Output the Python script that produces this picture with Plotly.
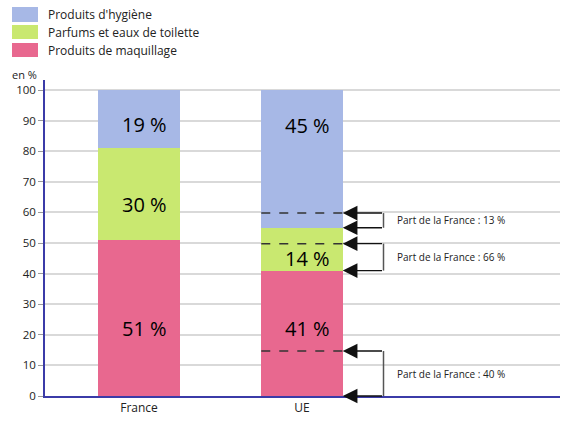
import plotly.graph_objects as go

# data
categories = ['France', 'UE']
cat_pos = [0, 1]
maquillage = [51, 41]
parfums = [30, 14]
hygiene = [19, 45]
series_names = ["Produits d'hygiène", 'Parfums et eaux de toilette', 'Produits de maquillage']
series_colors = ['#a7b8e6', '#c9e870', '#e8688f']

# France's share of each UE segment, and the dashed marker level drawn in the UE bar
france_share = [13, 66, 40]          # hygiene, parfums, maquillage
share_marks = [59.8, 49.8, 14.7]
y_ticks = list(range(0, 101, 10))

# where the value labels sit (y level, per bar: maquillage, parfums, hygiene)
label_levels = [[22.2, 62.7, 88.6], [22.2, 45.1, 88.3]]

fig = go.Figure()

for vals, name, color in [(maquillage, series_names[2], series_colors[2]),
                          (parfums, series_names[1], series_colors[1]),
                          (hygiene, series_names[0], series_colors[0])]:
    fig.add_trace(go.Bar(
        x=cat_pos, y=vals, name=name, width=0.5,
        marker=dict(color=color, line=dict(width=0)),
        showlegend=False, hoverinfo='name+y',
    ))

# value labels
for i, pos in enumerate(cat_pos):
    for vals, ly in zip([maquillage, parfums, hygiene], label_levels[i]):
        fig.add_annotation(x=pos, y=ly, xref='x', yref='y', xshift=5,
                           text=f'{vals[i]} %', showarrow=False,
                           font=dict(size=20, color='black', family='Open Sans'))

# segment bottoms in the UE bar
ue_bottoms = [maquillage[1] + parfums[1], maquillage[1], 0]
ue_right = cat_pos[1] + 0.25
ue_left = cat_pos[1] - 0.25
bracket_x = cat_pos[1] + 0.5

for share, mark, bottom in zip(france_share, share_marks, ue_bottoms):
    # dashed line inside the bar
    fig.add_shape(type='line', x0=ue_left, x1=ue_right, y0=mark, y1=mark,
                  xref='x', yref='y', line=dict(color='#333333', width=1.5, dash='dash'))
    # bracket vertical
    fig.add_shape(type='line', x0=bracket_x, x1=bracket_x, y0=bottom, y1=mark,
                  xref='x', yref='y', line=dict(color='#555555', width=1.5))
    for yy in (mark, bottom):
        fig.add_annotation(x=ue_right, y=yy, ax=bracket_x, ay=yy,
                           xref='x', yref='y', axref='x', ayref='y',
                           text='', showarrow=True, arrowhead=2, arrowsize=2.1,
                           arrowwidth=1.4, arrowcolor='#111111')
    fig.add_annotation(x=bracket_x + 0.07, y=(mark + bottom) / 2, xref='x', yref='y',
                       text=f'Part de la France : {share} %', showarrow=False,
                       xanchor='left', yanchor='middle',
                       font=dict(size=10, color='#222222', family='Open Sans'))

# custom legend (big swatches, top left)
legend_rows = [(73, 58), (55, 41), (37, 23)]
for (top, bot), name, color in zip(legend_rows, series_names, series_colors):
    fig.add_shape(type='rect', xref='paper', yref='paper',
                  xsizemode='pixel', ysizemode='pixel', xanchor=0, yanchor=1,
                  x0=-33, x1=-7, y0=bot, y1=top,
                  fillcolor=color, line=dict(width=0))
    fig.add_annotation(x=0, y=1, xref='paper', yref='paper', xshift=1,
                       yshift=(top + bot) / 2, text=name, showarrow=False,
                       xanchor='left', yanchor='middle',
                       font=dict(size=12, color='#222222', family='Open Sans'))

fig.add_annotation(x=0, y=1, xref='paper', yref='paper', xshift=-35, yshift=6,
                   text='en %', showarrow=False, xanchor='left', yanchor='middle',
                   font=dict(size=11, color='#222222', family='Open Sans'))

fig.update_layout(
    barmode='stack',
    width=578, height=421,
    margin=dict(l=45, r=18, t=80, b=25),
    plot_bgcolor='white',
    paper_bgcolor='white',
    font=dict(family='Open Sans', size=11, color='#222222'),
    xaxis=dict(range=[-0.577, 2.583], tickvals=cat_pos, ticktext=categories,
               tickfont=dict(size=12),
               showgrid=False, zeroline=False, showline=True, automargin=False,
               linecolor='#3b3ba8', linewidth=1.5, ticks='', fixedrange=True),
    yaxis=dict(range=[0, 103.3], tickvals=y_ticks, showgrid=True, automargin=False,
               tickfont=dict(size=11.5),
               gridcolor='#d9d9d9', gridwidth=1.5, zeroline=False,
               showline=True, linecolor='#3b3ba8', linewidth=1.5,
               ticks='outside', ticklen=5, tickcolor='#999999'),
)

# drop the default body margin so the figure sits at the window's corner
fig.write_html('out.html', config={'displayModeBar': False},
               post_script="document.body.style.margin='0';")
